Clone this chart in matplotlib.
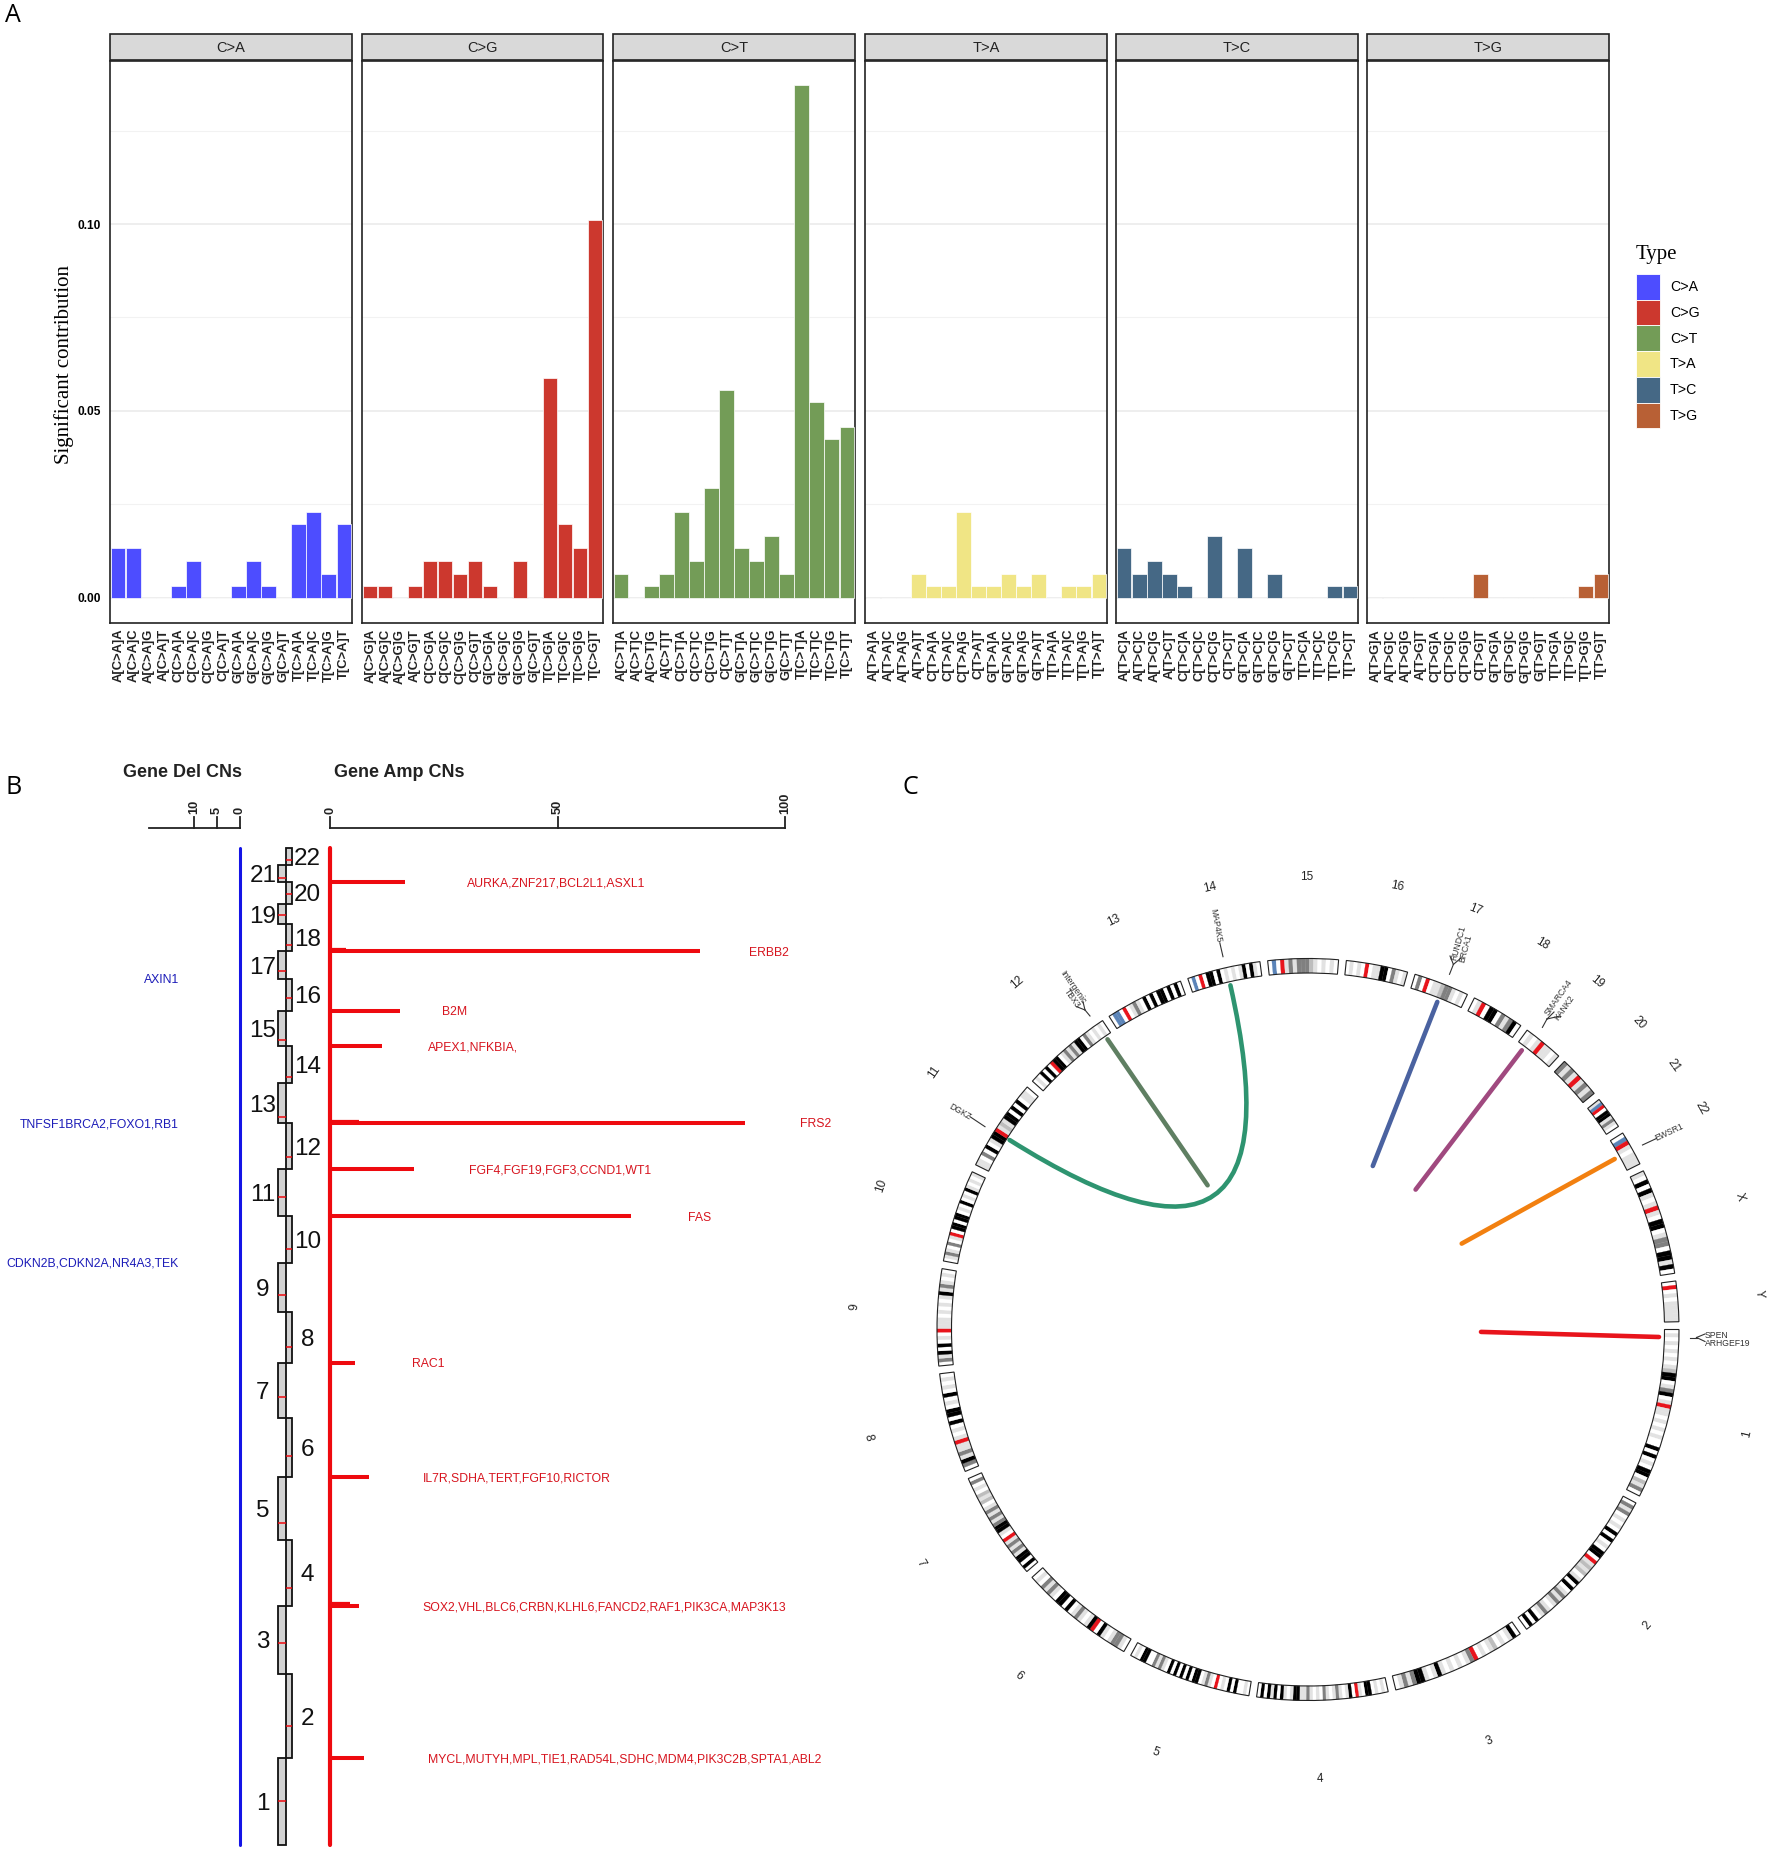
import matplotlib
matplotlib.use("Agg")
import numpy as np
import matplotlib.pyplot as plt
from matplotlib.patches import Patch, PathPatch, Rectangle, Wedge
from matplotlib.path import Path

W, H = 1772, 1852
plt.rcParams["font.family"] = ["Liberation Sans", "DejaVu Sans"]

# panel A data
types = ["C>A", "C>G", "C>T", "T>A", "T>C", "T>G"]
type_colors = ["#4D4DFF", "#CC382E", "#739C57", "#F0E585", "#456885", "#B86035"]
bases = ["A", "C", "G", "T"]
contrib = {
    "C>A": [.0133, .0133, 0, 0, .0033, .0098, 0, 0, .0033, .0098, .0033, 0, .0198, .023, .0065, .0198],
    "C>G": [.0033, .0033, 0, .0033, .0098, .0098, .0065, .0098, .0033, 0, .0098, 0, .0588, .0198, .0133, .1012],
    "C>T": [.0065, 0, .0033, .0065, .023, .0098, .0295, .0556, .0133, .0098, .0166, .0065, .1371, .0523, .0424, .0457],
    "T>A": [0, 0, 0, .0065, .0033, .0033, .023, .0033, .0033, .0065, .0033, .0065, 0, .0033, .0033, .0065],
    "T>C": [.0133, .0065, .0098, .0065, .0033, 0, .0166, 0, .0133, 0, .0065, 0, 0, 0, .0033, .0033],
    "T>G": [0, 0, 0, 0, 0, 0, 0, .0065, 0, 0, 0, 0, 0, 0, .0033, .0065],
}
facet_left = [110, 362, 613, 865, 1116, 1367]
facet_right = [352, 603, 855, 1107, 1358, 1609]

# panel B data
chrom_names = [str(i) for i in range(1, 23)]
chrom_mb = [249, 243, 198, 191, 181, 171, 159, 146, 141, 135.5, 135, 134, 115, 107, 102.5, 90, 81, 78, 59, 63, 48, 51]
centro_mb = [125, 93, 91, 50, 48, 61, 60, 45, 49, 40, 54, 35, 18, 17, 19, 37, 24, 17, 26, 28, 13, 15]
amp_pos = [249, 690, 1062, 1392, 1814.5, 1949.5, 2083.5, 2305.5, 2408, 2579, 2779]
amp_val = [7.4, 6.3, 8.4, 5.4, 66.2, 18.4, 91.2, 11.4, 15.4, 81.4, 16.4]
amp_genes = [
    "MYCL,MUTYH,MPL,TIE1,RAD54L,SDHC,MDM4,PIK3C2B,SPTA1,ABL2",
    "SOX2,VHL,BLC6,CRBN,KLHL6,FANCD2,RAF1,PIK3CA,MAP3K13",
    "IL7R,SDHA,TERT,FGF10,RICTOR",
    "RAC1",
    "FAS",
    "FGF4,FGF19,FGF3,CCND1,WT1",
    "FRS2",
    "APEX1,NFKBIA,",
    "B2M",
    "ERBB2",
    "AURKA,ZNF217,BCL2L1,ASXL1",
]
amp_text_x = [427.6, 422, 423, 412.5, 688, 469, 800, 427.6, 441.6, 748.6, 467]
spur_pos = [697, 2090.5, 2586]
spur_val = [4.2, 6.2, 3.5]
del_pos = [1262.5, 1123.6, 978.6]
del_genes = ["CDKN2B,CDKN2A,NR4A3,TEK", "TNFSF1BRCA2,FOXO1,RB1", "AXIN1"]
del_mb = [(1844.7 - y) * 2.887 for y in del_pos]

# panel C data: one character per band, read along the ring clockwise
ring_names = chrom_names + ["X", "Y"]
ring_mb = chrom_mb + [155, 59]
ring_bands = [
    "0101010101244013401r11010101004040104402130",
    "03130101040401044" + "0r121201404013131" + "0131040" + "40",
    "0410102101" + "0r3101010141014431310",
    "0101044" + "01r04" + "101310130101311" + "44101404140" + "40",
    "01004040" + "10r0131" + "0440404" + "0404" + "0131300" + "44010",
    "0133101" + "40r4101310" + "4044" + "01313" + "010",
    "04044" + "13131r0144" + "3131310" + "212" + "01030",
    "0341311r1010" + "40440104" + "01010",
    "03140" + "4010r111" + "010101" + "4131010",
    "013103" + "01r0440" + "440104" + "0104101" + "01",
    "1103" + "040144r121" + "440404" + "0110",
    "0104" + "040r44" + "0131314" + "40310" + "1010",
    "0bb0r01310404044040" + "40",
    "0b0r0440" + "401010" + "14" + "0410",
    "0b0r1313" + "33210" + "1010",
    "01010r01144" + "03101",
    "030r0112" + "331010",
    "01r04403134" + "0",
    "0101r1101",
    "3131r1313",
    "1br0441310",
    "0br10111",
    "1040410" + "1r10440" + "133" + "04414" + "0",
    "0r01011111",
]
band_colors = {"0": "#FFFFFF", "1": "#E2E2E2", "2": "#BDBDBD", "3": "#808080", "4": "#000000",
               "r": "#E8141C", "b": "#5B84B8"}
ring_labels_x = [438.5, 339, 181.5, 12, -152.2, -289.5, -387, -440, -453.4, -426.4, -373.5, -291.2,
                 -194.4, -97.7, -1, 89, 167.6, 234.4, 288.9, 330.6, 366, 393.5, 431.8, 451]
ring_labels_y = [-106, -297.7, -413, -451, -424.7, -348, -235, -109, 21, 142, 256, 346,
                 407.4, 440, 451, 441.2, 418.3, 384.2, 346, 305, 262.5, 220, 131.5, 34.3]
link_x0 = [173, 153.7, 107.6, 64.8, -100.4]
link_y0 = [-3.9, 84.4, 138.4, 162, 142.7]
link_x1 = [351, 306.7, 213.8, 129.3, -200.5]
link_y1 = [-9, 169, 277.7, 326.1, 288.7]
link_colors = ["#E8141C", "#F28010", "#A0497F", "#4A62A0", "#5F7F62"]
curve_x = [-298.4, 0, -77.6]
curve_y = [188, 0, 342.7]
gene_text = ["SPEN", "ARHGEF19", "EWSR1", "SMARCA4", "KANK2", "RUNDC1", "BRCA1", "MAP4K5",
             "Intergenic", "TBX3", "DGKZ"]
gene_x = [397, 397, 361, 251, 256.6, 150, 158, -92.6, -235, -236.3, -348]
gene_y = [-8, -16, 196, 330.5, 320.5, 384.5, 379.2, 402.4, 341, 330, 216.3]
gene_rot = [0, 0, 25, 55, 55, 75, 75, -80, -55, -55, -30]
gene_ha = ["left", "left", "center", "center", "center", "center", "center", "center", "center", "center", "center"]
# little leader lines next to the gene names, each one x0, y0, x1, y1
leaders = [
    (382, -9.5, 388.5, -9.5), (388.5, -9.5, 397, -6), (388.5, -9.5, 397, -13.5),
    (334.5, 183, 348.4, 189.5),
    (234.4, 300.6, 239, 309), (239, 309, 246, 316), (239, 309, 252, 312),
    (141.5, 353.7, 145.4, 363.6), (145.4, 363.6, 142, 372), (145.4, 363.6, 153, 370),
    (-88.2, 385.2, -85, 371.3),
    (-218, 312, -223, 318), (-223, 318, -225, 326.3), (-223, 318, -231.3, 321.3),
    (-338, 211.3, -323, 201.3),
]


def px_axes(fig, left, top, right, bottom):
    return fig.add_axes([left / W, 1 - bottom / H, (right - left) / W, (bottom - top) / H])


fig = plt.figure(figsize=(W / 100, H / 100), dpi=100, facecolor="white")

# ---- A: mutation spectrum facets
for k, t in enumerate(types):
    ax = px_axes(fig, facet_left[k], 61, facet_right[k], 622.6)
    labels = [f"{a}[{t}]{b}" for a in bases for b in bases]
    ax.bar(range(16), contrib[t], width=0.96, color=type_colors[k], edgecolor="white", linewidth=0.5, zorder=3)
    ax.set_xlim(-0.55, 15.55)
    ax.set_ylim(-0.0066, 0.1436)
    ax.set_yticks([0, 0.05, 0.10])
    ax.set_yticks([0.025, 0.075, 0.125], minor=True)
    ax.grid(axis="y", which="major", color="#EBEBEB", lw=1.2, zorder=0)
    ax.grid(axis="y", which="minor", color="#F2F2F2", lw=0.8, zorder=0)
    ax.tick_params(axis="both", which="both", length=0)
    ax.set_xticks(range(16))
    ax.set_xticklabels(labels, rotation=90, fontsize=9.4, fontweight="bold", color="#222222")
    ax.tick_params(axis="x", pad=4.5)
    if k == 0:
        ax.set_yticklabels(["0.00", "0.05", "0.10"], fontsize=8.6, fontweight="bold")
        ax.tick_params(axis="y", pad=6.5)
        ax.set_ylabel("Significant contribution", family="Liberation Serif", fontsize=15)
        ax.yaxis.set_label_coords(-(110 - 74) / 242, 0.459)
    else:
        ax.tick_params(axis="y", labelleft=False)
    for s in ax.spines.values():
        s.set_linewidth(1.2)
        s.set_color("#222222")
    ax.add_patch(Rectangle((0, 1.002), 1, 0.046, transform=ax.transAxes, clip_on=False,
                           facecolor="#D9D9D9", edgecolor="#222222", lw=1.2))
    ax.text(0.5, 1.023, t, transform=ax.transAxes, ha="center", va="center", fontsize=10.5, color="#222222")

handles = [Patch(facecolor=c, edgecolor="white", lw=0.6, label=t) for t, c in zip(types, type_colors)]
leg = fig.legend(handles=handles, loc="upper left", bbox_to_anchor=(1635.5 / W, 1 - 244.5 / H), frameon=False,
                 fontsize=10.2, handlelength=1.76, handleheight=2.42, handletextpad=0.67, labelspacing=0,
                 borderpad=0, borderaxespad=0, title="Type", alignment="left",
                 title_fontproperties={"family": "Liberation Serif", "size": 15})
leg._legend_box.sep = 7.5

# panel letters
for letter, x, y in [("A", 5, 15.5), ("B", 5.5, 787), ("C", 903, 788)]:
    fig.text(x / W, 1 - y / H, letter, family="Open Sans", fontsize=18, ha="left", va="center")

# ---- B: copy number lollipops around the ideogram
MB_PER_PX = 2.887
axb = px_axes(fig, 0, 760, 890, 1852)
axb.set_xlim(-330.5 / 4.545, (890 - 330.5) / 4.545)
axb.set_ylim(-(1852 - 1844.7) * MB_PER_PX, (1844.7 - 760) * MB_PER_PX)
axb.axis("off")
total_mb = sum(chrom_mb)
del_zero = -20

axb.plot([0, 0], [0, total_mb], color="#EE0A0F", lw=3, solid_capstyle="round")
axb.plot([del_zero, del_zero], [0, total_mb], color="#1414E6", lw=2.2, solid_capstyle="round")
axb.hlines(amp_pos, 0, amp_val, color="#EE0A0F", lw=2.9)
axb.hlines(spur_pos, 0, spur_val, color="#EE0A0F", lw=1.6)

base = 0
for i, (name, length, cen) in enumerate(zip(chrom_names, chrom_mb, centro_mb)):
    odd = i % 2 == 0
    x0, w = (-11.5, 1.6) if odd else (-9.9, 1.5)
    axb.add_patch(Rectangle((x0, base), w, length, facecolor="#D2D2D2", edgecolor="#111111", lw=1.3))
    axb.hlines(base + cen, x0, x0 + w, color="#EE0A0F", lw=1.1, zorder=3)
    axb.text(-14.9 if odd else -5.06, base + length / 2 - 7, name, ha="center", va="center",
             fontsize=17.5, color="#111111")
    base += length

for x, y, g in zip(amp_text_x, amp_pos, amp_genes):
    axb.text((x - 330.5) / 4.545, y - 4, g, color="#D7141E", fontsize=8.8, ha="left", va="center")
for y, g in zip(del_mb, del_genes):
    axb.text((179 - 330.5) / 4.545, y - 4, g, color="#1C1CB8", fontsize=8.8, ha="right", va="center")

axis_y = (1844.7 - 827.9) * MB_PER_PX
tick_y = (1844.7 - 817) * MB_PER_PX
lab_y = (1844.7 - 814) * MB_PER_PX
axb.plot([del_zero - 20, del_zero], [axis_y, axis_y], color="#222222", lw=1.3)
axb.plot([0, 100], [axis_y, axis_y], color="#222222", lw=1.3)
for v, x in [(10, del_zero - 10), (5, del_zero - 5), (0, del_zero), (0, 0), (50, 50), (100, 100)]:
    axb.plot([x, x], [axis_y, tick_y], color="#222222", lw=1.3)
    axb.text(x, lab_y, str(v), rotation=90, ha="center", va="bottom", fontsize=9.3, fontweight="bold", color="#222222")
axb.text((182.5 - 330.5) / 4.545, (1844.7 - 772.4) * MB_PER_PX, "Gene Del CNs", fontsize=13, fontweight="bold",
         ha="center", va="center", color="#222222")
axb.text((399 - 330.5) / 4.545, (1844.7 - 772.4) * MB_PER_PX, "Gene Amp CNs", fontsize=13, fontweight="bold",
         ha="center", va="center", color="#222222")

# ---- C: circular ideogram with links
axc = px_axes(fig, 840, 860, 1772, 1830)
axc.set_xlim(840 - 1308, 1772 - 1308)
axc.set_ylim(1328 - 1830, 1328 - 860)
axc.axis("off")
R_OUT, THICK, GAP = 371, 14.5, 1.2
ring_center = (0, -1.5)
deg_per_mb = (360 - 24 * GAP) / sum(ring_mb)
angle = 0.0
for length, bands in zip(ring_mb, ring_bands):
    span = length * deg_per_mb
    step = span / len(bands)
    for j, b in enumerate(bands):
        col = band_colors[b]
        axc.add_patch(Wedge(ring_center, R_OUT, angle - (j + 1) * step, angle - j * step, width=THICK,
                            facecolor=col, edgecolor=col, lw=0.2))
    axc.add_patch(Wedge(ring_center, R_OUT, angle - span, angle, width=THICK, fill=False, edgecolor="#222222", lw=0.8))
    angle -= span + GAP

for name, x, y in zip(ring_names, ring_labels_x, ring_labels_y):
    rot = np.degrees(np.arctan2(y, x))
    rot = rot - 90 if y >= 0 else rot + 90
    axc.text(x, y, name, rotation=rot, ha="center", va="center", fontsize=8.5, color="#222222", rotation_mode="anchor")

for x0, y0, x1, y1, c in zip(link_x0, link_y0, link_x1, link_y1, link_colors):
    axc.plot([x0, x1], [y0, y1], color=c, lw=3.3, solid_capstyle="round")
axc.add_patch(PathPatch(Path(list(zip(curve_x, curve_y)), [Path.MOVETO, Path.CURVE3, Path.CURVE3]),
                        fill=False, edgecolor="#2E9470", lw=3.3, capstyle="round"))

for x0, y0, x1, y1 in leaders:
    axc.plot([x0, x1], [y0, y1], color="#333333", lw=0.8)
for g, x, y, r, ha in zip(gene_text, gene_x, gene_y, gene_rot, gene_ha):
    axc.text(x, y, g, rotation=r, ha=ha, va="center", fontsize=6.2, color="#333333", rotation_mode="anchor")

fig.savefig("out.png", dpi=100)
